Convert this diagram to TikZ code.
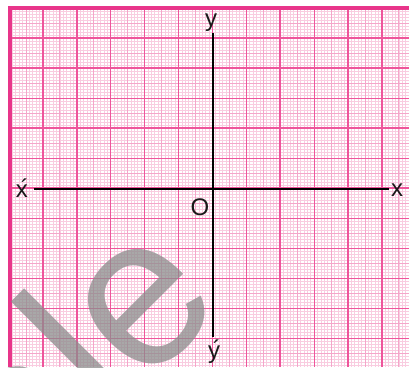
\documentclass[tikz,border=0pt]{standalone}
\usepackage{fontspec}
\setmainfont{Liberation Sans}
\definecolor{finepink}{HTML}{F9CCE0}
\definecolor{halfpink}{HTML}{F4A6CA}
\definecolor{majorpink}{HTML}{EE559B}
\definecolor{borderpink}{HTML}{E8358A}
\newcommand{\acuteafter}[1]{#1\rlap{\kern-0.3em\raisebox{0.02em}{´}}}
\tikzset{
  fineline/.style={draw=finepink, line width=0.5pt},
  halfline/.style={draw=halfpink, line width=0.6pt},
  majorline/.style={draw=majorpink, line width=0.9pt},
  heavyline/.style={draw=majorpink, line width=1.3pt},
  borderline/.style={draw=borderpink, line width=2.3pt},
  axisline/.style={draw=black, line width=1.6pt},
  axislabel/.style={font=\fontsize{18}{18}\selectfont, inner sep=0pt, anchor=base, text=black!90},
  watermark/.style={font=\fontsize{160}{160}\selectfont, text=black!45, opacity=0.75, inner sep=0pt, anchor=base west, rotate=45}
}
\begin{document}
\begin{tikzpicture}[x=0.75pt,y=-0.75pt]
\useasboundingbox (0,0) rectangle (409,367);
\clip (0,0) rectangle (409,367);
\fill[white] (0,0) rectangle (409,367);
% fine grid
\foreach \k in {1,...,118} {
  \pgfmathsetmacro\xx{9+3.39*\k}
  \draw[fineline] (\xx,8) -- (\xx,367);
}
\foreach \k in {1,...,119} {
  \pgfmathsetmacro\yy{8+3.005*\k}
  \draw[fineline] (9,\yy) -- (409,\yy);
}
% half lines
\foreach \j in {0,...,11} {
  \pgfmathsetmacro\xx{9+33.9*(\j+0.5)}
  \pgfmathsetmacro\yy{8+30.05*(\j+0.5)}
  \draw[halfline] (\xx,8) -- (\xx,367);
  \draw[halfline] (9,\yy) -- (409,\yy);
}
% major lines
\foreach \j in {1,3,...,11} {
  \pgfmathsetmacro\xx{9+33.9*\j}
  \pgfmathsetmacro\yy{8+30.05*\j}
  \draw[majorline] (\xx,8) -- (\xx,367);
  \draw[majorline] (9,\yy) -- (409,\yy);
}
\foreach \j in {2,4,...,10} {
  \pgfmathsetmacro\xx{9+33.9*\j}
  \pgfmathsetmacro\yy{8+30.05*\j}
  \draw[heavyline] (\xx,8) -- (\xx,367);
  \draw[heavyline] (9,\yy) -- (409,\yy);
}
% border
\draw[borderline] (10,367) -- (10,8) -- (409,8);
% watermark
\node[watermark] (wm) at (26,506) {ale};
% axes
\coordinate (xstart) at (34,189);
\coordinate (xend) at (389,189);
\coordinate (ystart) at (213,33);
\coordinate (yend) at (213,337);
\draw[axisline] (xstart) -- (xend);
\draw[axisline] (ystart) -- (yend);
% labels
\node[axislabel] (xneg) at (22,197) {\acuteafter{x}};
\node[axislabel] (xpos) at (397,196) {x};
\node[axislabel] (ypos) at (211,27) {y};
\node[axislabel] (yneg) at (214,358) {\acuteafter{y}};
\node[axislabel] (orig) at (200,215) {O};
\end{tikzpicture}
\end{document}
